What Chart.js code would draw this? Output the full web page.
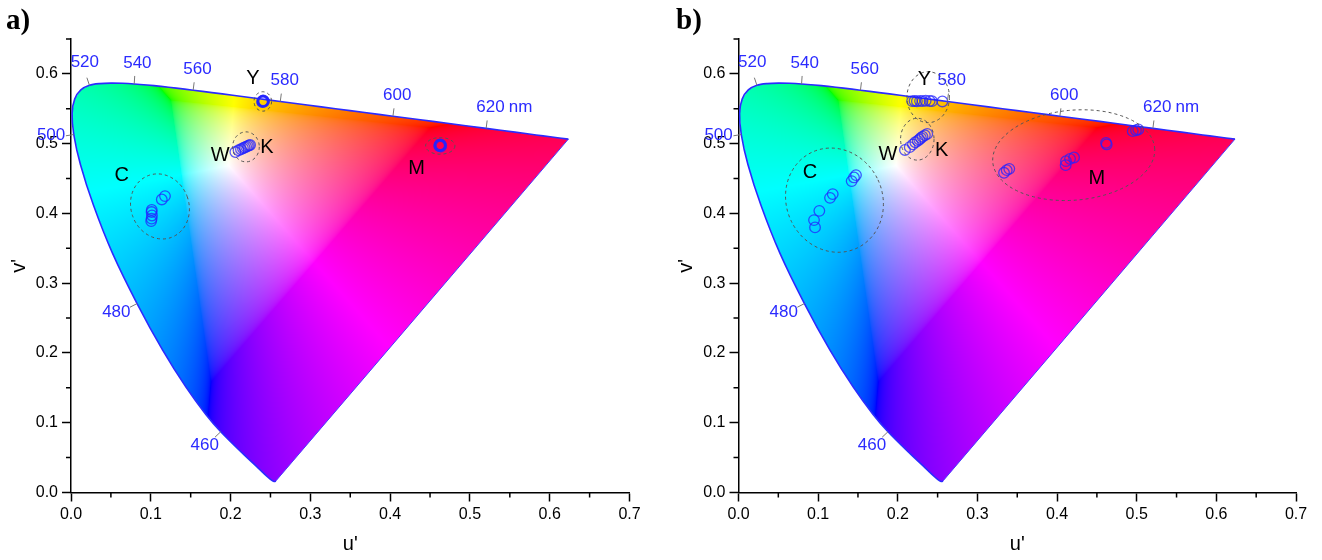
<!DOCTYPE html>
<html>
<head>
<meta charset="utf-8">
<script src="https://cdn.jsdelivr.net/npm/chart.js@4.4.1/dist/chart.umd.min.js"></script>
<style>
  html, body { margin: 0; padding: 0; background: #fff; }
  .panel { position: absolute; top: 0; width: 661px; height: 560px; }
</style>
</head>
<body>
<div class="panel" style="left:0"><canvas id="chartA"></canvas></div>
<div class="panel" style="left:661px"><canvas id="chartB"></canvas></div>
<script>
// CIE 1976 spectral locus (wavelength in nm, u', v')
const locusNm = [380, 400, 410, 420, 430, 440, 450, 460, 465, 470, 475, 480, 485, 490, 495,
  500, 505, 510, 515, 520, 525, 530, 535, 540, 545, 550, 555, 560, 565, 570, 575, 580,
  585, 590, 595, 600, 605, 610, 620, 630, 640, 650, 700];
const locusU = [0.2568, 0.2557, 0.2545, 0.2522, 0.2461, 0.2347, 0.2161, 0.1877, 0.1690, 0.1441,
  0.1147, 0.0828, 0.0521, 0.0282, 0.0119, 0.0035, 0.0014, 0.0046, 0.0123, 0.0231, 0.0360,
  0.0501, 0.0643, 0.0792, 0.0953, 0.1127, 0.1319, 0.1531, 0.1766, 0.2026, 0.2312, 0.2623,
  0.2960, 0.3315, 0.3681, 0.4035, 0.4379, 0.4692, 0.5203, 0.5565, 0.5830, 0.6005, 0.6234];
const locusV = [0.0166, 0.0159, 0.0159, 0.0169, 0.0226, 0.0350, 0.0549, 0.0871, 0.1119, 0.1510,
  0.2044, 0.2708, 0.3427, 0.4117, 0.4698, 0.5131, 0.5432, 0.5638, 0.5770, 0.5837, 0.5861,
  0.5868, 0.5865, 0.5856, 0.5841, 0.5821, 0.5796, 0.5766, 0.5732, 0.5694, 0.5651, 0.5604,
  0.5554, 0.5501, 0.5446, 0.5393, 0.5342, 0.5296, 0.5219, 0.5165, 0.5125, 0.5099, 0.5065];
const labelledNm = [460, 480, 500, 520, 540, 560, 580, 600, 620];

// axis ticks
const majorU = [0, 0.1, 0.2, 0.3, 0.4, 0.5, 0.6, 0.7];
const majorV = [0, 0.1, 0.2, 0.3, 0.4, 0.5, 0.6];
const minorU = [0.05, 0.15, 0.25, 0.35, 0.45, 0.55, 0.65];
const minorV = [0.05, 0.15, 0.25, 0.35, 0.45, 0.55, 0.65];

// panel a) measured colour coordinates
const aYu  = [0.2395, 0.2405, 0.2415, 0.2400, 0.2410, 0.2420, 0.2405];
const aYv  = [0.5605, 0.5615, 0.5600, 0.5595, 0.5620, 0.5610, 0.5608];
const aWKu = [0.2060, 0.2100, 0.2130, 0.2155, 0.2175, 0.2195, 0.2215, 0.2230, 0.2245];
const aWKv = [0.4880, 0.4905, 0.4920, 0.4935, 0.4945, 0.4955, 0.4965, 0.4975, 0.4980];
const aCu  = [0.1005, 0.1010, 0.1015, 0.1010, 0.1012, 0.1138, 0.1178];
const aCv  = [0.3890, 0.3925, 0.3970, 0.4020, 0.4050, 0.4200, 0.4248];
const aMu  = [0.4615, 0.4625, 0.4635, 0.4620, 0.4630, 0.4640, 0.4622];
const aMv  = [0.4965, 0.4975, 0.4960, 0.4985, 0.4990, 0.4978, 0.4970];
// panel a) group outlines: centre, half-axes (u', v' units), tilt in degrees
const aEllU   = [0.2404, 0.2193, 0.1115, 0.4628];
const aEllV   = [0.5605, 0.4954, 0.4100, 0.4968];
const aEllRu  = [0.0110, 0.0167, 0.0363, 0.0184];
const aEllRv  = [0.0139, 0.0215, 0.0473, 0.0119];
const aEllRot = [0, 0, -20, 0];
// panel a) group names
const aTagText = ['Y', 'W', 'K', 'C', 'M'];
const aTagU    = [0.2280, 0.1870, 0.2456, 0.0635, 0.4330];
const aTagV    = [0.5940, 0.4830, 0.4950, 0.4540, 0.4645];

// panel b) measured colour coordinates
const bYu  = [0.218, 0.221, 0.224, 0.228, 0.231, 0.235, 0.240, 0.243, 0.256];
const bYv  = [0.5610, 0.5612, 0.5608, 0.5613, 0.5610, 0.5615, 0.5611, 0.5609, 0.5605];
const bWKu = [0.209, 0.215, 0.219, 0.222, 0.225, 0.227, 0.229, 0.231, 0.234, 0.237];
const bWKv = [0.491, 0.495, 0.499, 0.502, 0.504, 0.506, 0.508, 0.510, 0.512, 0.514];
const bCu  = [0.0961, 0.0948, 0.1015, 0.1149, 0.1183, 0.1421, 0.1450, 0.1475];
const bCv  = [0.3800, 0.3904, 0.4037, 0.4223, 0.4277, 0.4463, 0.4516, 0.4549];
const bMu  = [0.3334, 0.3368, 0.3400, 0.4108, 0.4112, 0.4163, 0.4213, 0.4623, 0.4615, 0.4950, 0.4991, 0.5020];
const bMv  = [0.4582, 0.4620, 0.4639, 0.4692, 0.4749, 0.4782, 0.4802, 0.4989, 0.5011, 0.5179, 0.5193, 0.5203];
const bEllU   = [0.2382, 0.2245, 0.1205, 0.4209];
const bEllV   = [0.5666, 0.5064, 0.4190, 0.4835];
const bEllRu  = [0.0267, 0.0210, 0.0603, 0.1020];
const bEllRv  = [0.0365, 0.0300, 0.0759, 0.0645];
const bEllRot = [0, 0, -25, -5];
const bTagText = ['Y', 'W', 'K', 'C', 'M'];
const bTagU    = [0.2333, 0.1877, 0.2551, 0.0898, 0.4498];
const bTagV    = [0.5924, 0.4841, 0.4897, 0.4585, 0.4501];

const FONT = '"Liberation Sans", Arial, sans-serif';
const LABEL_BLUE = '#2b2bff';
Chart.defaults.font.family = FONT;

// u'v' -> display colour: sRGB, out-of-gamut values desaturated toward white, full brightness
function gammaEncode(c) {
  return c <= 0.0031308 ? 12.92 * c : 1.055 * Math.pow(c, 1 / 2.4) - 0.055;
}
function chromaColour(u, v) {
  const d = 6 * u - 16 * v + 12;
  const x = 9 * u / d, y = 4 * v / d;
  if (y <= 0.0005) return null;
  const X = x / y, Z = (1 - x - y) / y;
  let r = 3.2406 * X - 1.5372 - 0.4986 * Z;
  let g = -0.9689 * X + 1.8758 + 0.0415 * Z;
  let b = 0.0557 * X - 0.2040 + 1.0570 * Z;
  const lo = Math.min(r, g, b);
  if (lo < 0) { r -= lo; g -= lo; b -= lo; }
  const m = Math.max(r, g, b);
  if (m <= 0) return null;
  return [gammaEncode(r / m) * 255, gammaEncode(g / m) * 255, gammaEncode(b / m) * 255];
}

function gamutCanvas(chart) {
  const area = chart.chartArea;
  const x0 = Math.floor(area.left), y0 = Math.floor(area.top);
  const w = Math.ceil(area.right) - x0, h = Math.ceil(area.bottom) - y0;
  const key = [x0, y0, w, h].join(',');
  if (chart.$gamut && chart.$gamut.key === key) return chart.$gamut;
  const xs = chart.scales.x, ys = chart.scales.y;
  const off = document.createElement('canvas');
  off.width = w; off.height = h;
  const octx = off.getContext('2d');
  const img = octx.createImageData(w, h);
  for (let j = 0; j < h; j++) {
    const v = ys.getValueForPixel(y0 + j + 0.5);
    for (let i = 0; i < w; i++) {
      const u = xs.getValueForPixel(x0 + i + 0.5);
      const c = chromaColour(u, v);
      if (!c) continue;
      const k = (j * w + i) * 4;
      img.data[k] = c[0]; img.data[k + 1] = c[1]; img.data[k + 2] = c[2]; img.data[k + 3] = 255;
    }
  }
  octx.putImageData(img, 0, 0);
  chart.$gamut = { key, canvas: off, x0, y0 };
  return chart.$gamut;
}

function locusPath(ctx, chart) {
  const xs = chart.scales.x, ys = chart.scales.y;
  ctx.beginPath();
  locusU.forEach((u, i) => {
    const px = xs.getPixelForValue(u), py = ys.getPixelForValue(locusV[i]);
    if (i === 0) ctx.moveTo(px, py); else ctx.lineTo(px, py);
  });
  ctx.closePath();
}

const cieDecor = {
  id: 'cieDecor',
  beforeDatasetsDraw(chart) {
    const ctx = chart.ctx;
    const g = gamutCanvas(chart);
    ctx.save();
    locusPath(ctx, chart);
    ctx.clip();
    ctx.drawImage(g.canvas, g.x0, g.y0);
    ctx.restore();
  },
  afterDatasetsDraw(chart, args, opts) {
    const ctx = chart.ctx, xs = chart.scales.x, ys = chart.scales.y;
    ctx.save();
    // wavelength marks along the locus
    ctx.font = '17px ' + FONT;
    ctx.textAlign = 'center';
    ctx.textBaseline = 'middle';
    labelledNm.forEach(nm => {
      const i = locusNm.indexOf(nm);
      const px = xs.getPixelForValue(locusU[i]), py = ys.getPixelForValue(locusV[i]);
      const ax = xs.getPixelForValue(locusU[i - 1]), ay = ys.getPixelForValue(locusV[i - 1]);
      const bx = xs.getPixelForValue(locusU[i + 1]), by = ys.getPixelForValue(locusV[i + 1]);
      let tx = bx - ax, ty = by - ay;
      const len = Math.hypot(tx, ty); tx /= len; ty /= len;
      const nx = ty, ny = -tx;
      ctx.strokeStyle = '#777';
      ctx.lineWidth = 1;
      ctx.beginPath();
      ctx.moveTo(px, py);
      ctx.lineTo(px + nx * 8, py + ny * 8);
      ctx.stroke();
      const text = String(nm);
      const w = ctx.measureText(text).width;
      const dist = 10 + Math.abs(nx) * w / 2 + Math.abs(ny) * 6.5;
      const cx = px + nx * dist + 2, cy = py + ny * dist - 3;
      ctx.fillStyle = LABEL_BLUE;
      ctx.fillText(text, cx, cy);
      if (nm === 620) {
        ctx.textAlign = 'left';
        ctx.fillText('nm', cx + w / 2 + 4, cy);
        ctx.textAlign = 'center';
      }
    });
    // dashed outlines around each group of samples
    const sx = Math.abs(xs.getPixelForValue(1) - xs.getPixelForValue(0));
    const sy = Math.abs(ys.getPixelForValue(1) - ys.getPixelForValue(0));
    ctx.strokeStyle = '#555';
    ctx.lineWidth = 1;
    ctx.setLineDash([3, 3]);
    opts.ellU.forEach((u, i) => {
      ctx.beginPath();
      ctx.ellipse(xs.getPixelForValue(u), ys.getPixelForValue(opts.ellV[i]),
        opts.ellRu[i] * sx, opts.ellRv[i] * sy, opts.ellRot[i] * Math.PI / 180, 0, Math.PI * 2);
      ctx.stroke();
    });
    ctx.setLineDash([]);
    // group names
    ctx.fillStyle = '#000';
    ctx.font = '20px ' + FONT;
    opts.tagText.forEach((t, i) => {
      ctx.fillText(t, xs.getPixelForValue(opts.tagU[i]), ys.getPixelForValue(opts.tagV[i]));
    });
    ctx.restore();
  },
  afterDraw(chart, args, opts) {
    const ctx = chart.ctx, xs = chart.scales.x, ys = chart.scales.y;
    const area = chart.chartArea;
    ctx.save();
    ctx.strokeStyle = '#000';
    ctx.lineWidth = 1.5;
    ctx.beginPath();
    minorU.forEach(u => {
      const px = xs.getPixelForValue(u);
      ctx.moveTo(px, area.bottom); ctx.lineTo(px, area.bottom + 5);
    });
    minorV.forEach(v => {
      const py = ys.getPixelForValue(v);
      ctx.moveTo(area.left - 5, py); ctx.lineTo(area.left, py);
    });
    ctx.stroke();
    // panel letter
    ctx.fillStyle = '#000';
    ctx.font = 'bold 29px "Liberation Serif", "Times New Roman", serif';
    ctx.textAlign = 'left';
    ctx.textBaseline = 'alphabetic';
    ctx.fillText(opts.panel, opts.panelX, 29);
    ctx.restore();
  }
};

function pts(us, vs) { return us.map((u, i) => ({ x: u, y: vs[i] })); }

function sampleSet(label, us, vs) {
  return {
    type: 'scatter', label, data: pts(us, vs), order: 1,
    pointRadius: 5.3, pointHoverRadius: 5.3, pointBorderWidth: 1.3,
    pointBorderColor: 'rgba(35,35,255,0.75)', pointBackgroundColor: 'rgba(0,0,0,0)',
    showLine: false
  };
}

function makePanel(id, cfg) {
  const last = locusU.length - 1;
  return new Chart(document.getElementById(id), {
    type: 'scatter',
    data: {
      datasets: [
        { type: 'line', label: 'spectral locus', data: pts(locusU, locusV), order: 10,
          borderColor: LABEL_BLUE, borderWidth: 1.6, pointRadius: 0, tension: 0.3, fill: false },
        { type: 'line', label: 'line of purples',
          data: [{ x: locusU[last], y: locusV[last] }, { x: locusU[0], y: locusV[0] }], order: 10,
          borderColor: '#4a3cff', borderWidth: 1, pointRadius: 0, tension: 0, fill: false },
        sampleSet('Y', cfg.Yu, cfg.Yv),
        sampleSet('W/K', cfg.WKu, cfg.WKv),
        sampleSet('C', cfg.Cu, cfg.Cv),
        sampleSet('M', cfg.Mu, cfg.Mv)
      ]
    },
    options: {
      responsive: true,
      maintainAspectRatio: false,
      animation: false,
      events: [],
      layout: { padding: cfg.padding },
      scales: {
        x: {
          type: 'linear', min: 0, max: 0.7,
          afterBuildTicks: s => { s.ticks = majorU.map(v => ({ value: v })); },
          afterFit: s => { s.height = 63.5; },
          ticks: { color: '#000', font: { size: 16 }, padding: 3, maxRotation: 0, autoSkip: false,
                   callback: v => Number(v).toFixed(1) },
          grid: { display: true, drawOnChartArea: false, drawTicks: true, tickLength: 9,
                  tickColor: '#000', tickWidth: 1.5 },
          border: { display: true, color: '#000', width: 1.5 },
          title: { display: true, text: "u'", color: '#000', font: { size: 20 }, padding: 0 }
        },
        y: {
          type: 'linear', min: 0, max: 0.65,
          afterBuildTicks: s => { s.ticks = majorV.map(v => ({ value: v })); },
          afterFit: s => { s.width = 64; },
          ticks: { color: '#000', font: { size: 16 }, padding: 4, autoSkip: false,
                   callback: v => Number(v).toFixed(1) },
          grid: { display: true, drawOnChartArea: false, drawTicks: true, tickLength: 9,
                  tickColor: '#000', tickWidth: 1.5 },
          border: { display: true, color: '#000', width: 1.5 },
          title: { display: true, text: "v'", color: '#000', font: { size: 20 }, padding: 0 }
        }
      },
      plugins: {
        legend: { display: false },
        tooltip: { enabled: false },
        cieDecor: {
          panel: cfg.panel, panelX: cfg.panelX,
          ellU: cfg.ellU, ellV: cfg.ellV, ellRu: cfg.ellRu, ellRv: cfg.ellRv, ellRot: cfg.ellRot,
          tagText: cfg.tagText, tagU: cfg.tagU, tagV: cfg.tagV
        }
      }
    },
    plugins: [cieDecor]
  });
}

makePanel('chartA', {
  panel: 'a)', panelX: 6,
  padding: { left: 7, right: 31.5, top: 39, bottom: 4 },
  Yu: aYu, Yv: aYv, WKu: aWKu, WKv: aWKv, Cu: aCu, Cv: aCv, Mu: aMu, Mv: aMv,
  ellU: aEllU, ellV: aEllV, ellRu: aEllRu, ellRv: aEllRv, ellRot: aEllRot,
  tagText: aTagText, tagU: aTagU, tagV: aTagV
});
makePanel('chartB', {
  panel: 'b)', panelX: 15,
  padding: { left: 13.5, right: 26, top: 39, bottom: 4 },
  Yu: bYu, Yv: bYv, WKu: bWKu, WKv: bWKv, Cu: bCu, Cv: bCv, Mu: bMu, Mv: bMv,
  ellU: bEllU, ellV: bEllV, ellRu: bEllRu, ellRv: bEllRv, ellRot: bEllRot,
  tagText: bTagText, tagU: bTagU, tagV: bTagV
});
</script>
</body>
</html>
